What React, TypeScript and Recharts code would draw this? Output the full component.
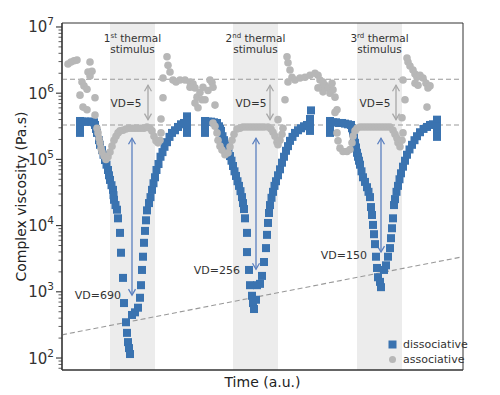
import React from "react";
import {
  ScatterChart,
  Scatter,
  XAxis,
  YAxis,
  ReferenceArea,
  ReferenceLine,
  ReferenceDot,
  Legend,
} from "recharts";

// ── Data (time in a.u., viscosity as log10 of Pa.s) ───────────────────────────
// dissociative network: one dip per thermal stimulus
const dissociative1: [number, number][] = [
  [18, 5.58], [18, 5.52], [18, 5.46], [18, 5.4], [20, 5.57], [23, 5.57], [26, 5.57], [29, 5.57], [32, 5.56], [33, 5.52], [34, 5.46], [35, 5.4],
  [37, 5.29], [38, 5.22], [40, 5.14], [41.5, 5.07], [43, 4.99], [44.5, 4.92], [46, 4.84], [47, 4.76], [48, 4.69], [49.5, 4.61],
  [51, 4.54], [51.5, 4.46], [52, 4.39], [53.5, 4.31], [55, 4.24],
  [56, 4.11], [58, 3.89], [59, 3.59], [61, 3.21], [62, 2.83], [64, 2.54], [65, 2.38], [66, 2.24], [67, 2.15], [68, 2.06],
  [70, 2.65], [73, 2.69], [76, 2.76], [78, 2.91], [79, 3.1], [80, 3.33], [81, 3.53], [82, 3.74], [83, 3.92], [84, 4.08], [85, 4.23],
  [87, 4.34], [88.5, 4.43], [90, 4.54], [91.5, 4.64], [93, 4.73], [94.5, 4.84], [96.5, 4.93], [98.5, 5.04], [100.5, 5.11],
  [102.5, 5.19], [105, 5.26], [107.5, 5.34], [110, 5.4], [113, 5.44], [116, 5.49], [119, 5.53], [122, 5.55],
  [125, 5.65], [125, 5.58], [125, 5.49], [125, 5.4],
];
const dissociative2: [number, number][] = [
  [143, 5.58], [143, 5.52], [143, 5.46], [143, 5.4], [146, 5.57], [149, 5.57], [152, 5.56], [155, 5.55], [157, 5.5], [158, 5.46],
  [159, 5.43], [160.5, 5.35], [162, 5.29], [163.5, 5.23], [165, 5.17], [166.5, 5.11], [168, 5.05], [169.5, 4.98], [171, 4.9],
  [172.5, 4.82], [174, 4.75], [175.5, 4.67], [177, 4.6], [178.5, 4.52], [180, 4.43], [181, 4.34], [182, 4.25],
  [183, 4.11], [185, 3.89], [185, 3.6], [187, 3.33], [188, 3.1], [190, 2.94], [191, 2.83], [192, 2.74], [194, 2.88],
  [195, 3.1], [198, 3.12], [200, 3.24], [202, 3.45], [204, 3.66], [205, 3.86], [206, 4.04], [207, 4.19],
  [208, 4.31], [209.5, 4.42], [211, 4.51], [212.5, 4.6], [214, 4.67], [216, 4.76], [218, 4.85], [220, 4.95], [222, 5.04],
  [224, 5.13], [226, 5.2], [228, 5.28], [230.5, 5.34], [233, 5.4], [236, 5.44], [239, 5.47], [242, 5.5], [245, 5.52],
  [248, 5.61], [248, 5.52], [248, 5.43], [249, 5.74],
];
const dissociative3: [number, number][] = [
  [268, 5.58], [268, 5.52], [268, 5.46], [268, 5.4], [271, 5.56], [274, 5.56], [277, 5.55], [280, 5.55], [283, 5.54], [286, 5.53],
  [289, 5.52], [290, 5.47], [291, 5.4],
  [292, 5.33], [293, 5.25], [294, 5.18], [295, 5.1], [296, 5.04], [297, 4.98], [298, 4.92], [299.5, 4.82], [301, 4.73],
  [303, 4.66], [305, 4.58], [306.5, 4.51], [308, 4.43],
  [309, 4.28], [310, 4.16], [311, 4.01], [312, 3.87], [313, 3.72], [314, 3.53], [315, 3.36], [316, 3.22], [318, 3.15], [319, 3.07],
  [322, 3.33], [324, 3.4], [326, 3.53], [328, 3.66], [329, 3.81], [330, 3.96], [331, 4.11],
  [332, 4.31], [333, 4.4], [334.5, 4.51], [336, 4.6], [337.5, 4.7], [339, 4.79], [341, 4.89], [343, 4.98], [345, 5.07],
  [347.5, 5.15], [350, 5.22], [352.5, 5.29], [355, 5.35], [358, 5.41], [361.5, 5.46], [365, 5.49], [368, 5.52], [371, 5.53],
  [375, 5.6], [375, 5.5], [375, 5.41], [375, 5.34],
];

// associative network
const associative0: [number, number][] = [
  [6, 6.44], [9, 6.47], [12, 6.49], [15, 6.5], [28, 6.47], [26, 6.32], [28, 6.26], [30, 6.33], [20, 6.17], [22, 6.11],
  [25, 6.06], [18, 5.97], [33, 5.93], [21, 5.79], [25, 5.75], [33, 5.67],
];
const associative1: [number, number][] = [
  [35, 5.47], [36, 5.4], [37, 5.32], [38, 5.25], [39, 5.17], [40, 5.11], [42, 5.05], [44, 5.0], [46, 5.04], [48, 5.11], [50, 5.2],
  [52, 5.29], [54, 5.35], [56, 5.4], [58, 5.43], [61, 5.44], [64, 5.46], [67, 5.47], [70, 5.47], [73, 5.47], [76, 5.47], [79, 5.47],
  [82, 5.47], [85, 5.49], [88, 5.47], [90, 5.43], [92, 5.35], [94, 5.28], [96, 5.25], [98, 5.29], [99, 5.4], [99, 5.61],
  [101, 5.93], [105, 6.55], [106, 6.42], [108, 6.32], [111, 6.2], [101, 6.23], [114, 6.17], [118, 6.2], [123, 6.2], [128, 6.17],
  [131, 6.14], [133, 6.08], [135, 5.94], [138, 6.01], [141, 6.09], [140, 5.9], [143, 5.9], [146, 6.04], [148, 6.2], [136, 5.78],
  [133, 5.85], [128, 6.09], [150, 6.16], [151, 6.09], [153, 5.82],
];
const associative2: [number, number][] = [
  [151, 5.55], [153, 5.5], [155, 5.4], [156, 5.29], [158, 5.2], [160, 5.14], [163, 5.07], [166, 5.1], [168, 5.19], [170, 5.29],
  [172, 5.38], [175, 5.46], [178, 5.47], [181, 5.49], [184, 5.49], [187, 5.49], [190, 5.49], [193, 5.49], [196, 5.49], [199, 5.49],
  [202, 5.49], [206, 5.49], [209, 5.46], [211, 5.41], [213, 5.35], [215, 5.26], [216, 5.22], [218, 5.29], [220, 5.38], [221, 5.47],
  [216, 5.6], [223, 5.9],
  [225, 6.55], [226, 6.46], [228, 6.35], [230, 6.24], [226, 6.17], [233, 6.2], [238, 6.23], [243, 6.24], [248, 6.27], [253, 6.3],
  [256, 6.27], [258, 6.2], [260, 6.09], [261, 6.02], [263, 6.12], [256, 6.08], [266, 6.08], [268, 6.0], [261, 6.17], [270, 6.15],
  [271, 6.05], [273, 5.94], [275, 5.75],
];
const associative3: [number, number][] = [
  [273, 5.71], [275, 5.4], [276, 5.28], [278, 5.17], [281, 5.12], [285, 5.12], [288, 5.15], [290, 5.25], [291, 5.35], [293, 5.43],
  [295, 5.47], [298, 5.49], [301, 5.49], [304, 5.49], [307, 5.49], [310, 5.49], [313, 5.49], [316, 5.49], [319, 5.49], [322, 5.49],
  [325, 5.49], [328, 5.49], [331, 5.44], [333, 5.38], [335, 5.32], [336, 5.25], [338, 5.19], [340, 5.29], [341, 5.4], [340, 5.63],
  [343, 5.9], [365, 5.79],
  [345, 6.53], [346, 6.47], [348, 6.41], [351, 6.35], [353, 6.29], [355, 6.24], [358, 6.27], [361, 6.23], [364, 6.15], [366, 6.08],
  [368, 6.11], [353, 6.15], [356, 6.12], [341, 6.2],
];

// thermal stimulus windows (time a.u.)
const stimulusWindows: [number, number][] = [[48, 93], [171, 216], [295, 340]];
const stimulusOrdinals: [string, string][] = [["1", "st"], ["2", "nd"], ["3", "rd"]];

// plateau guide levels (log10 Pa.s) and the dashed trend through the minima
const plateauLevels = [6.21, 5.52];
const minimaTrend: [number, number][] = [[0, 2.35], [401, 3.53]];

// viscosity drop labels
const vdAssociative = [5, 5, 5];
const vdDissociative = [690, 256, 150];

const seriesOrder = ["dissociative", "associative"];

// ── Layout of annotations (time, log10 viscosity) ─────────────────────────────
const assocArrows = [{ t: 86, top: 6.12, bottom: 5.6 }, { t: 208, top: 6.12, bottom: 5.6 }, { t: 334, top: 6.12, bottom: 5.6 }];
const dissArrows = [{ t: 70, top: 5.32, bottom: 2.95 }, { t: 194, top: 5.32, bottom: 3.34 }, { t: 319, top: 5.32, bottom: 3.6 }];
const assocVdPos: [number, number][] = [[64, 5.79], [189, 5.79], [313, 5.79]];
const dissVdPos: [number, number][] = [[59, 2.89], [178, 3.27], [305, 3.5]];
const stimulusLabelLevel = 6.773;

// ── Axis ──────────────────────────────────────────────────────────────────────
const Y_MIN = 10 ** 1.819;
const Y_MAX = 10 ** 7.06;
const majorTicks = [1e2, 1e3, 1e4, 1e5, 1e6, 1e7];
const minorSteps = [2, 3, 4, 5, 6, 7, 8, 9];
const yTicks = [1e1, ...majorTicks.slice(0, 5)]
  .flatMap((d) => minorSteps.map((s) => s * d))
  .filter((v) => v >= Y_MIN && v <= Y_MAX)
  .concat(majorTicks)
  .sort((a, b) => a - b);

// ── Colours ───────────────────────────────────────────────────────────────────
const BLUE = "#3a73b0";
const GRAY = "#b7b7b7";
const BAND = "#ececec";
const ARROW_BLUE = "#5b80c0";
const ARROW_GRAY = "#a8a8a8";
const DASH = "#999999";
const INK = "#333333";

const toPoints = (rows: [number, number][]) => rows.map(([t, e]) => ({ t, v: 10 ** e }));
const dissPoints = toPoints([...dissociative1, ...dissociative2, ...dissociative3]);
const assocPoints = toPoints([...associative0, ...associative1, ...associative2, ...associative3]);

function LogTick(props: any) {
  const { x, y, payload } = props;
  const lg = Math.log10(payload.value);
  const exp = Math.round(lg);
  const major = Math.abs(lg - exp) < 1e-6;
  return (
    <g>
      <line x1={x - (major ? 6 : 3.5)} x2={x} y1={y} y2={y} stroke={INK} strokeWidth={major ? 1.1 : 0.8} />
      {major && (
        <text x={x - 8} y={y + 5.5} textAnchor="end" fontSize={15} fill={INK}>
          10<tspan dy={-7} fontSize={10.5}>{exp}</tspan>
        </text>
      )}
    </g>
  );
}

const squareMark = (p: any) => <rect x={p.cx - 4} y={p.cy - 4} width={8} height={8} fill={BLUE} />;
const dotMark = (p: any) => <circle cx={p.cx} cy={p.cy} r={3.8} fill={GRAY} />;

function arrowShape(color: string) {
  return (p: any) => {
    const { x1, y1, x2, y2 } = p;
    const h = 6;
    const w = 3.5;
    const dir = y2 > y1 ? 1 : -1;
    return (
      <g stroke={color} strokeWidth={1.3} fill="none">
        <line x1={x1} y1={y1} x2={x2} y2={y2} />
        <polyline points={`${x1 - w},${y1 + dir * h} ${x1},${y1} ${x1 + w},${y1 + dir * h}`} />
        <polyline points={`${x2 - w},${y2 - dir * h} ${x2},${y2} ${x2 + w},${y2 - dir * h}`} />
      </g>
    );
  };
}

function LegendContent(props: any) {
  const items = [...(props.payload ?? [])].sort(
    (a: any, b: any) => seriesOrder.indexOf(a.value) - seriesOrder.indexOf(b.value)
  );
  return (
    <div style={{ fontSize: 11, color: INK, lineHeight: "15px" }}>
      {items.map((it: any) => (
        <div key={it.value} style={{ display: "flex", alignItems: "center", gap: 6 }}>
          <svg width={9} height={9}>
            {it.type === "square"
              ? <rect x={0.5} y={0.5} width={8} height={8} fill={BLUE} />
              : <circle cx={4.5} cy={4.5} r={3.5} fill={GRAY} />}
          </svg>
          <span>{it.value}</span>
        </div>
      ))}
    </div>
  );
}

export default function App() {
  return (
    <div style={{ position: "absolute", left: 0, top: 0, fontFamily: "'DejaVu Sans', sans-serif", background: "#fff" }}>
      <ScatterChart width={500} height={395} margin={{ top: 23, right: 37, bottom: 0, left: 0 }}>
        <XAxis
          type="number"
          dataKey="t"
          domain={[0, 401]}
          allowDataOverflow
          tick={false}
          tickLine={false}
          axisLine={{ stroke: INK, strokeWidth: 1.2 }}
          height={25}
          label={{ value: "Time (a.u.)", position: "insideBottom", offset: 8, fontSize: 14, fill: "#222" }}
        />
        <YAxis
          type="number"
          dataKey="v"
          scale="log"
          domain={[Y_MIN, Y_MAX]}
          allowDataOverflow
          ticks={yTicks}
          interval={0}
          tick={<LogTick />}
          tickLine={false}
          tickSize={0}
          tickMargin={0}
          width={62}
          axisLine={{ stroke: INK, strokeWidth: 1.2 }}
          label={{
            value: "Complex viscosity (Pa.s)",
            angle: -90,
            position: "insideLeft",
            offset: 21,
            fontSize: 14,
            fill: "#222",
            style: { textAnchor: "middle" },
          }}
        />

        {stimulusWindows.map(([a, b]) => (
          <ReferenceArea key={`band-${a}`} x1={a} x2={b} fill={BAND} fillOpacity={1} stroke="none" />
        ))}
        <ReferenceArea x1={0} x2={401} fill="none" stroke={INK} strokeWidth={1} />

        {plateauLevels.map((e) => (
          <ReferenceLine key={`lvl-${e}`} y={10 ** e} stroke={DASH} strokeDasharray="5 3" strokeWidth={1.1} />
        ))}
        <ReferenceLine
          segment={minimaTrend.map(([t, e]) => ({ x: t, y: 10 ** e }))}
          stroke={DASH}
          strokeDasharray="5 3"
          strokeWidth={1.1}
        />

        <Scatter name="dissociative" data={dissPoints} fill={BLUE} shape={squareMark} legendType="square" isAnimationActive={false} />
        <Scatter name="associative" data={assocPoints} fill={GRAY} shape={dotMark} legendType="circle" isAnimationActive={false} />

        {assocArrows.map((a) => (
          <ReferenceLine
            key={`aa-${a.t}`}
            segment={[{ x: a.t, y: 10 ** a.top }, { x: a.t, y: 10 ** a.bottom }]}
            ifOverflow="visible"
            shape={arrowShape(ARROW_GRAY)}
          />
        ))}
        {dissArrows.map((a) => (
          <ReferenceLine
            key={`da-${a.t}`}
            segment={[{ x: a.t, y: 10 ** a.top }, { x: a.t, y: 10 ** a.bottom }]}
            ifOverflow="visible"
            shape={arrowShape(ARROW_BLUE)}
          />
        ))}

        {stimulusWindows.map(([a, b], i) => (
          <ReferenceDot
            key={`stim-${i}`}
            x={(a + b) / 2}
            y={10 ** stimulusLabelLevel}
            r={0}
            ifOverflow="visible"
            shape={(p: any) => (
              <text x={p.cx} y={p.cy} textAnchor="middle" fontSize={10.5} fill={INK}>
                <tspan>{stimulusOrdinals[i][0]}</tspan>
                <tspan dy={-4} fontSize={7}>{stimulusOrdinals[i][1]}</tspan>
                <tspan dy={4}>{"\u00a0thermal"}</tspan>
                <tspan x={p.cx} dy={11}>stimulus</tspan>
              </text>
            )}
          />
        ))}
        {vdAssociative.map((vd, i) => (
          <ReferenceDot
            key={`vda-${i}`}
            x={assocVdPos[i][0]}
            y={10 ** assocVdPos[i][1]}
            r={0}
            ifOverflow="visible"
            shape={(p: any) => (
              <text x={p.cx} y={p.cy} textAnchor="middle" fontSize={10.5} fill={INK}>VD={vd}</text>
            )}
          />
        ))}
        {vdDissociative.map((vd, i) => (
          <ReferenceDot
            key={`vdd-${i}`}
            x={dissVdPos[i][0]}
            y={10 ** dissVdPos[i][1]}
            r={0}
            ifOverflow="visible"
            shape={(p: any) => (
              <text x={p.cx} y={p.cy} textAnchor="end" fontSize={11} fill={INK}>VD={vd}</text>
            )}
          />
        ))}

        <Legend
          layout="horizontal"
          verticalAlign="middle"
          align="center"
          wrapperStyle={{ left: 388, top: 337, width: 80 }}
          content={<LegendContent />}
        />
      </ScatterChart>
    </div>
  );
}
